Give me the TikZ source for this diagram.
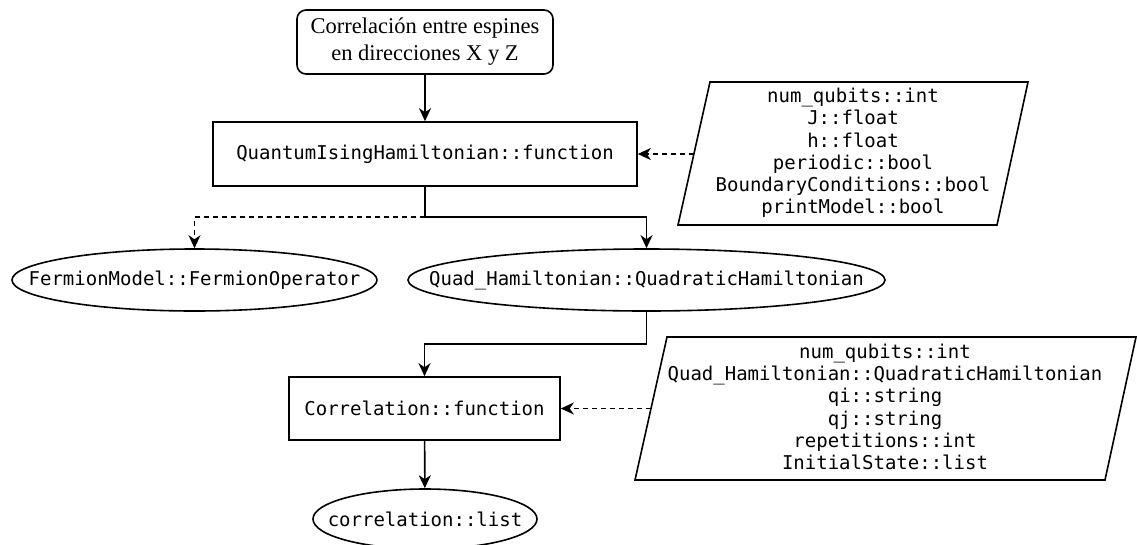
\documentclass[tikz,border=0pt]{standalone}
\usepackage{fontspec}
\setmainfont{Liberation Serif}
\newfontfamily\codefont{DejaVu Sans Mono}
\usetikzlibrary{shapes.geometric,arrows.meta}

\tikzset{
  base/.style={line width=1.6pt, draw=black},
  code/.style={font=\codefont\fontsize{19}{22.2}\selectfont},
  startbox/.style={base, rounded corners=9pt, inner sep=0pt, align=center,
    font=\fontsize{22.5}{27}\selectfont},
  funcbox/.style={base, code, inner sep=0pt},
  outell/.style={base, code, ellipse, inner sep=0pt},
  paramtext/.style={code, align=center, inner sep=0pt},
  flow/.style={line width=1.6pt, -{Stealth[length=13pt,width=12pt,inset=4pt]}},
  link/.style={flow, dash pattern=on 5pt off 4pt},
  plain/.style={line width=1.6pt}
}

\begin{document}
\begin{tikzpicture}[x=1pt,y=-1pt]
\useasboundingbox (0,0) rectangle (1137,544);

% main flow
\node[startbox, minimum width=256pt, minimum height=64pt] (start) at (425,42)
  {Correlación entre espines\\en direcciones X y Z};
\node[funcbox, minimum width=424pt, minimum height=64pt] (qih) at (425,154)
  {QuantumIsingHamiltonian::function};
\node[outell, minimum width=365pt, minimum height=62pt] (ferm) at (194.5,280)
  {\makebox[0pt]{FermionModel::FermionOperator}};
\node[outell, minimum width=477pt, minimum height=62pt] (quad) at (646.5,280)
  {\makebox[0pt]{Quad\_Hamiltonian::QuadraticHamiltonian}};
\node[funcbox, minimum width=271pt, minimum height=63pt] (corr) at (424.5,408.5)
  {Correlation::function};
\node[outell, minimum width=224pt, minimum height=60pt] (res) at (425,519)
  {\makebox[0pt]{correlation::list}};

% parameter blocks
\draw[plain] (710,82) -- (1028,82) -- (997,225) -- (678,225) -- cycle;
\node[paramtext] (par1) at (853,153)
  {num\_qubits::int\\J::float\\h::float\\periodic::bool\\BoundaryConditions::bool\\printModel::bool};
\coordinate (par1w) at (694,154);

\draw[plain] (667,337) -- (1136,337) -- (1105,480) -- (635,480) -- cycle;
\node[paramtext] (par2) at (885,407)
  {num\_qubits::int\\Quad\_Hamiltonian::QuadraticHamiltonian\\qi::string\\qj::string\\repetitions::int\\InitialState::list};
\coordinate (par2w) at (651,408.5);

% connectors
\draw[flow] (start) -- (qih);
\draw[link] (par1w) -- (qih.east);
\coordinate (split) at (425,217);
\draw[plain] (qih.south) -- (split);
\draw[flow] (split) -| (quad.north);
\draw[link] (split) -| (ferm.north);
\draw[flow] (quad.south) -- ++(0,32) -| (corr.north);
\draw[link] (par2w) -- (corr.east);
\draw[flow] (corr) -- (res);
\end{tikzpicture}
\end{document}
